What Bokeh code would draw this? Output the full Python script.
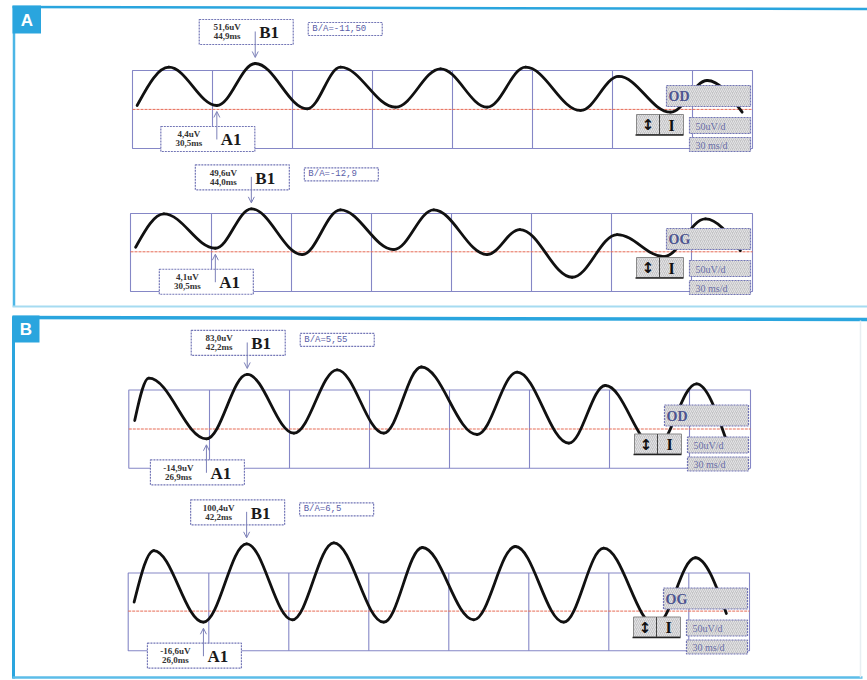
from bokeh.plotting import figure
from bokeh.models import Range1d, Arrow, OpenHead, ColumnDataSource
from bokeh.core.properties import value
from bokeh.embed import file_html
from bokeh.resources import INLINE

W, H = 867, 680

# ---- recorded pattern ERG traces: latency (ms) / amplitude (uV) at each turning point ----
od_a_ms = [0.6, 12.5, 30.5, 44.9, 64.4, 76.9, 97.5, 114.4, 131.9, 146.3, 166.9, 181.2, 200.6, 214.4, 227.5]
od_a_uv = [4.4, 47.4, 4.4, 51.6, 0.7, 47.4, 2.5, 45.6, 2.5, 47.4, -1.2, 37.0, -3.1, 32.5, -3.1]

og_a_ms = [0.6, 11.2, 30.5, 44.0, 63.1, 77.4, 97.4, 112.4, 132.4, 144.7, 164.3, 181.2, 198.7, 214.3, 227.4]
og_a_uv = [5.3, 43.8, 4.1, 49.6, -3.2, 48.4, 2.6, 48.4, -3.2, 25.7, -29.4, 19.9, -5.5, 38.0, 1.4]

od_b_ms = [0.0, 5.3, 26.9, 42.2, 59.7, 75.9, 93.4, 107.5, 128.4, 143.4, 162.8, 176.5, 195.3, 210.7, 221.9]
od_b_uv = [12.9, 77.3, -14.9, 83.0, -6.4, 90.1, -6.4, 94.4, -8.4, 86.5, -21.6, 66.2, -28.2, 68.8, -17.5]

og_b_ms = [0.0, 7.4, 26.0, 42.2, 59.3, 74.9, 93.6, 108.1, 127.4, 143.0, 161.1, 176.1, 195.5, 210.5, 222.1]
og_b_uv = [13.3, 90.4, -16.6, 100.4, -13.0, 101.9, -16.6, 94.9, -13.0, 96.4, -16.6, 93.9, -21.5, 79.6, -3.6]

# cursor readings (A1 trough, B1 peak) and the B/A ratio shown for each trace
a1_ms = [30.5, 30.5, 26.9, 26.0]
a1_uv = [4.4, 4.1, -14.9, -16.6]
b1_ms = [44.9, 44.0, 42.2, 42.2]
b1_uv = [51.6, 49.6, 83.0, 100.4]
ratio_labels = ["B/A=-11,50", "B/A=-12,9", "B/A=5,55", "B/A=6,5"]
eye_labels = ["OD", "OG", "OD", "OG"]
gain_label = "50uV/d"
sweep_label = "30 ms/d"
panel_letters = ["A", "B"]

traces_ms = [od_a_ms, og_a_ms, od_b_ms, og_b_ms]
traces_uv = [od_a_uv, og_a_uv, od_b_uv, og_b_uv]

# ---- screen placement of each trace window ----
PX_PER_MS = 80 / 30          # one 30 ms division is 80 px wide
windows = [
    dict(x0=135.0, y0=108.9, k=0.890, left=132.0, top=70.0, right=752.0, bottom=148.0, grid=132.0),
    dict(x0=133.5, y0=251.3, k=0.866, left=130.0, top=213.0, right=752.0, bottom=291.0, grid=131.0),
    dict(x0=134.2, y0=428.5, k=0.657, left=128.3, top=389.5, right=750.0, bottom=467.7, grid=129.0),
    dict(x0=133.6, y0=610.6, k=0.670, left=127.7, top=572.5, right=749.0, bottom=650.3, grid=128.3),
]

BLUE = "#2aa5de"
GRID = "#8587c6"
BOX = "#7376b6"
INK = "#111111"
RED = "#e66a55"
MONO = value("Liberation Mono")
SERIF = value("Liberation Serif")

p = figure(width=W, height=H, x_range=Range1d(0, W), y_range=Range1d(H, 0),
           toolbar_location=None, output_backend="svg", min_border=0,
           x_axis_type=None, y_axis_type=None)
p.grid.visible = False
p.outline_line_color = None
p.background_fill_color = "white"
p.border_fill_color = "white"

# ---- panel frames and letters ----
p.line([13.5, 13.5], [6, 306], line_color="#4cb6e6", line_width=2.5)
p.line([12, W], [6.5, 8.5], line_color=BLUE, line_width=2.5)
p.line([12, W], [306, 306], line_color="#a6dbf1", line_width=2)
p.line([13, 13], [316, 678], line_color=BLUE, line_width=3)
p.line([12, W], [317, 319], line_color=BLUE, line_width=3.5)
p.line([12, 862], [677, 677], line_color="#5cbde8", line_width=2.5)
p.line([860, 860], [320, 677], line_color="#e8eef2", line_width=1.5)
p.quad(left=[12, 12], right=[40.5, 39], top=[5, 315], bottom=[33, 342],
       fill_color=BLUE, line_color=None)
p.text(x=[26.5, 25.5], y=[19.5, 329], text=panel_letters, text_color="white",
       text_font=value("Liberation Sans"), text_font_style="bold", text_font_size="17px",
       text_align="center", text_baseline="middle")


def bezier_source(ts, vs):
    """Cubic segments through the turning points, flat at each extremum."""
    d = dict(x0=[], y0=[], x1=[], y1=[], cx0=[], cy0=[], cx1=[], cy1=[])
    n = len(ts)
    for i in range(n - 1):
        ta, va, tb, vb = ts[i], vs[i], ts[i + 1], vs[i + 1]
        dt, dv = tb - ta, vb - va
        if i == 0:
            c0 = (ta + 0.3 * dt, va + 0.45 * dv)
        else:
            c0 = (ta + 0.364 * dt, va)
        if i == n - 2:
            c1 = (tb - 0.3 * dt, vb - 0.45 * dv)
        else:
            c1 = (tb - 0.364 * dt, vb)
        d["x0"].append(ta); d["y0"].append(va)
        d["x1"].append(tb); d["y1"].append(vb)
        d["cx0"].append(c0[0]); d["cy0"].append(c0[1])
        d["cx1"].append(c1[0]); d["cy1"].append(c1[1])
    return ColumnDataSource(d)


def fmt(v, unit):
    return f"{v:.1f}".replace(".", ",") + unit


for i, w in enumerate(windows):
    tx, vy = f"ms{i}", f"uv{i}"
    # data ranges that place this trace inside its window
    p.extra_x_ranges[tx] = Range1d(-w["x0"] / PX_PER_MS, (W - w["x0"]) / PX_PER_MS)
    p.extra_y_ranges[vy] = Range1d((w["y0"] - H) / w["k"], w["y0"] / w["k"])

    L, T, R, B = w["left"], w["top"], w["right"], w["bottom"]

    # window frame and 30 ms divisions
    p.quad(left=[L], right=[R], top=[T], bottom=[B], fill_color=None,
           line_color=GRID, line_width=1.1)
    xs = [w["grid"] + 80 * n for n in range(1, 8)]
    p.segment(x0=xs, y0=[T] * len(xs), x1=xs, y1=[B] * len(xs),
              line_color=GRID, line_width=1.1)

    # zero line
    p.line(x=[(L - w["x0"]) / PX_PER_MS, (R - w["x0"]) / PX_PER_MS], y=[0, 0],
           x_range_name=tx, y_range_name=vy, line_color=RED, line_width=1, line_dash="3 1")

    # trace
    p.bezier(x0="x0", y0="y0", x1="x1", y1="y1", cx0="cx0", cy0="cy0", cx1="cx1", cy1="cy1",
             source=bezier_source(traces_ms[i], traces_uv[i]),
             x_range_name=tx, y_range_name=vy,
             line_color=INK, line_width=2.8, line_cap="round")

    # control panel at the right of the window
    hatch = dict(fill_color="#c4c4c6", hatch_pattern="/", hatch_color="#e4e4e6",
                 hatch_scale=4, hatch_weight=1)
    p.quad(left=[R - 86], right=[R - 2], top=[T + 15], bottom=[T + 36],
           line_color=BOX, line_width=1.2, line_dash="2 1", **hatch)
    p.quad(left=[R - 63, R - 63], right=[R - 2, R - 2], top=[T + 47, T + 67],
           bottom=[T + 63, T + 81], line_color=BOX, line_width=1.2, line_dash="2 1", **hatch)
    p.quad(left=[R - 116, R - 93], right=[R - 93, R - 69], top=[T + 44, T + 44],
           bottom=[T + 64, T + 64], line_color="#8a8a8a", line_width=1, **hatch)
    p.line([R - 117, R - 69], [T + 64.5, T + 64.5], line_color="#222222", line_width=1.5)
    p.line([R - 93, R - 93], [T + 44, T + 64], line_color="#444444", line_width=1)
    p.text(x=[R - 104.5], y=[T + 54.5], text=["↕"], text_color="#111111",
           text_font=value("DejaVu Sans"), text_font_style="bold", text_font_size="15px",
           text_align="center", text_baseline="middle")
    p.text(x=[R - 81], y=[T + 54.5], text=["I"], text_color="#111111",
           text_font=SERIF, text_font_style="bold", text_font_size="16px",
           text_align="center", text_baseline="middle")
    p.text(x=[R - 84], y=[T + 26], text=[eye_labels[i]], text_color="#4d5490",
           text_font=SERIF, text_font_style="bold", text_font_size="14px",
           text_baseline="middle")
    p.text(x=[R - 57, R - 57], y=[T + 55.5, T + 74.5], text=[gain_label, sweep_label],
           text_color="#6a6fa8", text_font=SERIF, text_font_size="10px",
           text_baseline="middle")

    # cursor B1 (peak) and A1 (trough)
    bx = w["x0"] + b1_ms[i] * PX_PER_MS
    by = w["y0"] - b1_uv[i] * w["k"]
    ax = w["x0"] + a1_ms[i] * PX_PER_MS
    ay = w["y0"] - a1_uv[i] * w["k"]

    btop = by - 44
    atop = ay + 21
    p.quad(left=[bx - 56, ax - 56], right=[bx + 38, ax + 38], top=[btop, atop],
           bottom=[btop + 25, atop + 25], fill_color="white",
           line_color=BOX, line_width=1.2, line_dash="2 1")
    # ratio box next to B1
    rl = bx + 53
    p.quad(left=[rl], right=[rl + 74], top=[btop + 3], bottom=[btop + 16], fill_color="white",
           line_color=BOX, line_width=1.2, line_dash="2 1")
    p.text(x=[rl + 4], y=[btop + 9.5], text=[ratio_labels[i]], text_color="#5a5ea8",
           text_font=MONO, text_font_size="9px", text_baseline="middle")

    p.text(x=[bx - 28, bx - 28, ax - 28, ax - 28],
           y=[btop + 8, btop + 17, atop + 8, atop + 17],
           text=[fmt(b1_uv[i], "uV"), fmt(b1_ms[i], "ms"), fmt(a1_uv[i], "uV"), fmt(a1_ms[i], "ms")],
           text_color="#333333", text_font=SERIF, text_font_size="9px", text_font_style="bold",
           text_align="center", text_baseline="middle")
    p.text(x=[bx + 4, ax + 4], y=[btop + 13.5, atop + 13.5], text=["B1", "A1"],
           text_color="#1a1a1a", text_font=SERIF, text_font_style="bold", text_font_size="17px",
           text_baseline="middle")

    p.add_layout(Arrow(end=OpenHead(size=6, line_color="#7c80b8", line_width=1),
                       x_start=bx, y_start=btop + 12, x_end=bx, y_end=by - 6,
                       line_color="#7c80b8", line_width=1))
    p.add_layout(Arrow(end=OpenHead(size=6, line_color="#7c80b8", line_width=1),
                       x_start=ax, y_start=atop + 13, x_end=ax, y_end=ay + 6,
                       line_color="#7c80b8", line_width=1))

open("out.html", "w").write(file_html(p, INLINE))
